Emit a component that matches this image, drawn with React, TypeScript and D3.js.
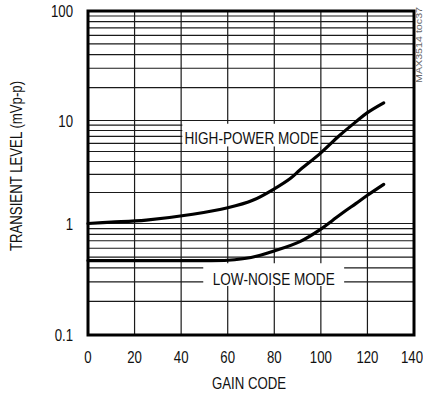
import React from "react";
import * as d3 from "d3";

const W = 423;
const H = 394;

// X axis
const xTicks = [0, 20, 40, 60, 80, 100, 120, 140];
const xDomain = [0, 140];
// Y axis (log)
const yTicks = [0.1, 1, 10, 100];
const yTickLabels = ["0.1", "1", "10", "100"];
const yDecades = [0.1, 1, 10];

// HIGH-POWER MODE curve
const hpGain = [0, 10, 25, 45, 60, 71, 80, 87, 91, 100, 108, 115, 120, 127];
const hpLevel = [1.0, 1.03, 1.08, 1.23, 1.42, 1.69, 2.17, 2.75, 3.3, 4.85, 7.15, 9.7, 11.8, 14.5];

// LOW-NOISE MODE curve
const lnGain = [0, 30, 50, 60, 70, 80, 91, 100, 105, 110, 115, 120, 127];
const lnLevel = [0.465, 0.465, 0.464, 0.468, 0.495, 0.567, 0.687, 0.89, 1.07, 1.3, 1.56, 1.88, 2.4];

const FONT = "'Liberation Sans', Arial, Helvetica, sans-serif";
const SX = 0.8;

function NText({ x, y, size, anchor = "middle", rotate = 0, fill = "#111", children, textLength }: any) {
  const tr = `translate(${x},${y})${rotate ? ` rotate(${rotate})` : ""} scale(${SX},1)`;
  return (
    <text
      transform={tr}
      textAnchor={anchor}
      fontFamily={FONT}
      fontSize={size}
      fill={fill}
      {...(textLength ? { textLength, lengthAdjust: "spacingAndGlyphs" } : {})}
    >
      {children}
    </text>
  );
}

export default function App() {
  const left = 88, right = 414, top = 11, bottom = 335;
  const x = d3.scaleLinear().domain(xDomain).range([left, right]);
  const y = d3.scaleLog().domain([0.1, 1, 10, 100]).range([bottom, 223.5, 120.5, top]);

  const hGrid: number[] = [];
  yDecades.forEach((d) => {
    for (let k = 2; k <= 9; k++) hGrid.push(k * d);
  });
  yDecades.forEach((d) => hGrid.push(d * 10));

  const line = d3
    .line<[number, number]>()
    .x((d) => x(d[0]))
    .y((d) => y(d[1]))
    .curve(d3.curveCatmullRom.alpha(0.5));

  const hpPath = line(hpGain.map((g, i) => [g, hpLevel[i]]));
  const lnPath = line(lnGain.map((g, i) => [g, lnLevel[i]]));

  const hpBox = { x0: 40.5, x1: 100, v0: 9.3, v1: 5.6 };
  const lnBox = { x0: 49.5, x1: 110, v0: 0.44, v1: 0.275 };

  const xLabelSize = 16.5;
  const labelX = (t: number) => {
    const half = (String(t).length * 0.556 * xLabelSize * SX) / 2;
    return Math.min(x(t), W - half);
  };

  return (
    <svg width={W} height={H} style={{ position: "absolute", left: 0, top: 0, background: "#fff" }}>
      <rect x={0} y={0} width={W} height={H} fill="#fff" />
      {/* horizontal grid */}
      {hGrid.map((v, i) => (
        <line key={"h" + i} x1={left} x2={right} y1={y(v)} y2={y(v)} stroke="#1a1a1a" strokeWidth={1.2} />
      ))}
      {/* vertical grid */}
      {xTicks.slice(1, -1).map((t) => (
        <line key={"v" + t} x1={x(t)} x2={x(t)} y1={top} y2={bottom} stroke="#1a1a1a" strokeWidth={1.2} />
      ))}
      {/* label boxes */}
      <rect x={x(hpBox.x0)} y={y(hpBox.v0)} width={x(hpBox.x1) - x(hpBox.x0) - 0.5} height={y(hpBox.v1) - y(hpBox.v0)} fill="#fff" />
      <NText x={(x(hpBox.x0) + x(hpBox.x1)) / 2} y={143.5} size={17}>HIGH-POWER MODE</NText>
      <rect x={x(lnBox.x0)} y={y(lnBox.v0)} width={x(lnBox.x1) - x(lnBox.x0)} height={y(lnBox.v1) - y(lnBox.v0)} fill="#fff" />
      <NText x={(x(lnBox.x0) + x(lnBox.x1)) / 2} y={284.5} size={17}>LOW-NOISE MODE</NText>
      {/* curves */}
      <path d={hpPath || ""} fill="none" stroke="#000" strokeWidth={3.2} strokeLinecap="round" />
      <path d={lnPath || ""} fill="none" stroke="#000" strokeWidth={3.2} strokeLinecap="round" />
      {/* frame */}
      <rect x={left} y={top} width={right - left} height={bottom - top} fill="none" stroke="#000" strokeWidth={3} />
      {/* y tick labels */}
      {yTicks.map((t, i) => (
        <NText key={"yt" + t} x={73} y={y(t) + 6} size={16.5} anchor="end">
          {yTickLabels[i]}
        </NText>
      ))}
      {/* x tick labels */}
      {xTicks.map((t) => (
        <NText key={"xt" + t} x={labelX(t)} y={362.5} size={xLabelSize}>
          {String(t)}
        </NText>
      ))}
      <NText x={(left + right) / 2 - 2} y={389} size={16.5}>GAIN CODE</NText>
      <NText x={22} y={(top + bottom) / 2 - 7} size={16.5} rotate={-90}>TRANSIENT LEVEL (mVp-p)</NText>
      <NText x={422} y={45} size={8.5} rotate={-90} fill="#666" textLength={95}>MAX3514 toc37</NText>
    </svg>
  );
}
